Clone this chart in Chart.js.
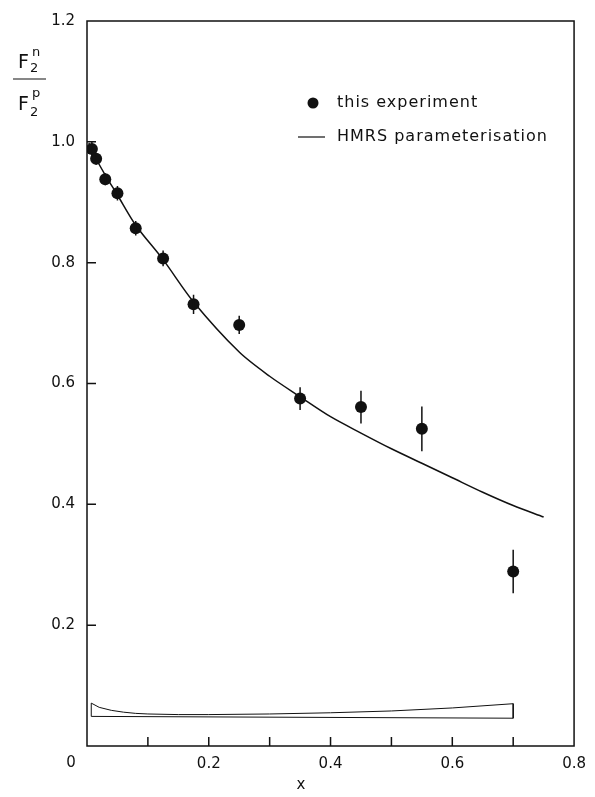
<!DOCTYPE html>
<html>
<head>
<meta charset="utf-8">
<script src="https://cdn.jsdelivr.net/npm/chart.js"></script>
<style>
  body { margin: 0; background: #fff; }
</style>
</head>
<body>
<canvas id="chart" width="595" height="797"></canvas>
<script>
// Данные эксперимента
const expX = [0.008, 0.015, 0.03, 0.05, 0.08, 0.125, 0.175, 0.25, 0.35, 0.45, 0.55, 0.70]
const expY = [0.988, 0.972, 0.938, 0.915, 0.857, 0.807, 0.731, 0.697, 0.575, 0.561, 0.525, 0.289]
const expErr = [0.012, 0.010, 0.010, 0.012, 0.012, 0.013, 0.016, 0.015, 0.019, 0.027, 0.037, 0.036]

// Кривая HMRS
const hmrsX = [0.003, 0.015, 0.03, 0.05, 0.08, 0.125, 0.175, 0.25, 0.30, 0.35, 0.40, 0.45, 0.50, 0.55, 0.60, 0.65, 0.70, 0.75]
const hmrsY = [0.998, 0.972, 0.945, 0.912, 0.862, 0.805, 0.735, 0.652, 0.612, 0.578, 0.545, 0.518, 0.492, 0.468, 0.444, 0.420, 0.398, 0.379]

// Полоса систематической ошибки
const bandX = [0.007, 0.02, 0.04, 0.06, 0.08, 0.10, 0.15, 0.20, 0.30, 0.40, 0.50, 0.60, 0.70]
const bandTop = [0.071, 0.064, 0.059, 0.056, 0.054, 0.053, 0.052, 0.052, 0.053, 0.055, 0.058, 0.063, 0.070]
const bandLow = [0.049, 0.046]

const xTicks = [0, 0.2, 0.4, 0.6, 0.8]
const yTicks = [0, 0.2, 0.4, 0.6, 0.8, 1.0, 1.2]

const FONT = "'DejaVu Sans', sans-serif"

const expData = expX.map((x, i) => ({ x, y: expY[i] }))
const hmrsData = hmrsX.map((x, i) => ({ x, y: hmrsY[i] }))
const bandData = bandX.map((x, i) => ({ x, y: bandTop[i] }))
bandData.push({ x: bandX[bandX.length - 1], y: bandLow[1] })
bandData.push({ x: bandX[0], y: bandLow[0] })
bandData.push({ x: bandX[0], y: bandTop[0] })

// Рамка, засечки, ошибки, подписи
const decorations = {
  id: "decorations",
  afterDatasetsDraw(chart) {
    const { ctx, chartArea: a, scales: { x, y } } = chart
    ctx.save()
    ctx.strokeStyle = "#111"
    ctx.lineWidth = 1.5
    ctx.strokeRect(a.left, a.top, a.right - a.left, a.bottom - a.top)

    ctx.beginPath()
    for (let v = 0.1; v < 0.75; v += 0.1) {
      const px = x.getPixelForValue(v)
      ctx.moveTo(px, a.bottom)
      ctx.lineTo(px, a.bottom - 9)
    }
    for (let v = 0.2; v < 1.15; v += 0.2) {
      const py = y.getPixelForValue(v)
      ctx.moveTo(a.left, py)
      ctx.lineTo(a.left + 9, py)
    }
    ctx.stroke()

    // вертикальные ошибки
    ctx.lineWidth = 1.5
    ctx.beginPath()
    expX.forEach((v, i) => {
      const px = x.getPixelForValue(v)
      ctx.moveTo(px, y.getPixelForValue(expY[i] + expErr[i]))
      ctx.lineTo(px, y.getPixelForValue(expY[i] - expErr[i]))
    })
    ctx.stroke()

    // легенда
    ctx.fillStyle = "#111"
    ctx.beginPath()
    ctx.arc(313, 103, 5.5, 0, Math.PI * 2)
    ctx.fill()
    ctx.beginPath()
    ctx.lineWidth = 1.2
    ctx.moveTo(298, 137)
    ctx.lineTo(325, 137)
    ctx.stroke()
    ctx.font = `16px ${FONT}`
    ctx.letterSpacing = "1px"
    ctx.textBaseline = "middle"
    ctx.textAlign = "left"
    ctx.fillText("this experiment", 337, 103)
    ctx.fillText("HMRS parameterisation", 337, 137)
    ctx.letterSpacing = "0px"

    // подпись оси y
    ctx.font = `19px ${FONT}`
    ctx.textBaseline = "alphabetic"
    ctx.fillText("F", 18, 68)
    ctx.fillText("F", 18, 110)
    ctx.font = `13px ${FONT}`
    ctx.fillText("2", 30, 72)
    ctx.fillText("n", 32, 56)
    ctx.fillText("2", 30, 116)
    ctx.fillText("p", 32, 97)
    ctx.beginPath()
    ctx.lineWidth = 1.2
    ctx.moveTo(13, 79)
    ctx.lineTo(46, 79)
    ctx.stroke()

    // начало координат и подпись оси x
    ctx.font = `15px ${FONT}`
    ctx.textAlign = "center"
    ctx.textBaseline = "middle"
    ctx.fillText("0", 71, 763)
    ctx.fillText("x", 301, 785)
    ctx.restore()
  }
}

new Chart(document.getElementById("chart"), {
  type: "scatter",
  data: {
    datasets: [
      {
        label: "this experiment",
        data: expData,
        pointRadius: 6,
        pointHoverRadius: 6,
        backgroundColor: "#111",
        borderColor: "#111",
        borderWidth: 0
      },
      {
        label: "HMRS parameterisation",
        data: hmrsData,
        showLine: true,
        pointRadius: 0,
        borderColor: "#111",
        borderWidth: 1.5,
        tension: 0.3
      },
      {
        label: "band",
        data: bandData,
        showLine: true,
        pointRadius: 0,
        borderColor: "#111",
        borderWidth: 1,
        tension: 0
      }
    ]
  },
  options: {
    responsive: false,
    animation: false,
    layout: { padding: { top: 14, right: 20, left: 0, bottom: 0 } },
    plugins: {
      legend: { display: false },
      tooltip: { enabled: false }
    },
    scales: {
      x: {
        type: "linear",
        min: 0,
        max: 0.8,
        afterBuildTicks: s => { s.ticks = xTicks.map(v => ({ value: v })) },
        afterFit: s => { s.height = 51 },
        grid: { display: false, drawTicks: false },
        border: { display: false },
        ticks: {
          padding: 9,
          color: "#111",
          font: { family: FONT, size: 15 },
          callback: v => v === 0 ? "" : v.toFixed(1)
        }
      },
      y: {
        type: "linear",
        min: 0,
        max: 1.2,
        afterBuildTicks: s => { s.ticks = yTicks.map(v => ({ value: v })) },
        afterFit: s => { s.width = 87 },
        grid: { display: false, drawTicks: false },
        border: { display: false },
        ticks: {
          padding: 12,
          color: "#111",
          font: { family: FONT, size: 15 },
          callback: v => v === 0 ? "" : v.toFixed(1)
        }
      }
    }
  },
  plugins: [decorations]
})
</script>
</body>
</html>
